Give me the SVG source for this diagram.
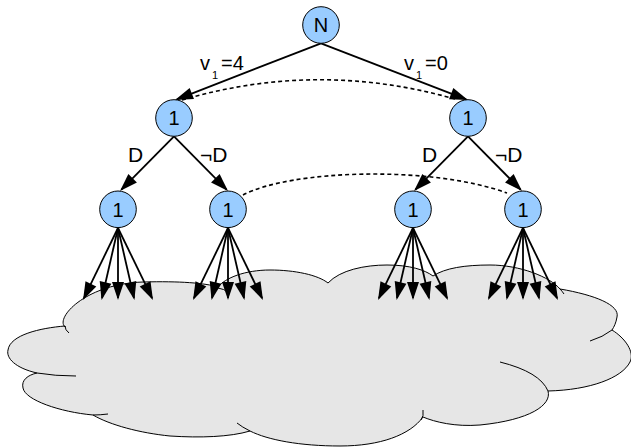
<svg xmlns="http://www.w3.org/2000/svg" width="631" height="447" viewBox="0 0 631 447">
<style>
.cloud{fill:#e6e6e6;stroke:#000;stroke-width:1}
.hook{fill:none;stroke:#000;stroke-width:1}
.edge{fill:none;stroke:#000;stroke-width:1.8;marker-end:url(#arr)}
.dash{fill:none;stroke:#000;stroke-width:1.6;stroke-dasharray:4 3}
.node{fill:#99ccff;stroke:#000;stroke-width:1}
text{font-family:"Liberation Sans",Arial,sans-serif;font-size:20px;fill:#000}
.lbl{font-size:21px}
.nl{text-anchor:middle}
.sub{font-size:11px}
</style>
<defs>
<marker id="arr" markerUnits="userSpaceOnUse" markerWidth="18" markerHeight="12" refX="16" refY="6" orient="auto" overflow="visible">
<path d="M0,0 L18,6 L0,12 Z" fill="#000"/>
</marker>
</defs>
<g id="cloud">
<path class="cloud" d="M65,327 C55,318 85,284 143,282 C180,281 205,283 218,287 C225,278 245,270 270,270 C295,270 318,275 328,283 C340,270 365,265 387,265 C410,265 425,270 433,276 C445,268 465,265 490,265 C520,265 550,277 560,289 C595,295 620,305 617,317 C616,323 614,327 612,330 C625,338 635,352 630,362 C622,378 590,390 548,391 C552,405 530,420 480,425 C455,427 435,422 423,417 C410,435 380,446 340,446 C300,446 268,440 250,431 C230,437 200,438 170,436 C140,433 110,425 93,415 C60,412 25,400 23,388 C21,380 28,375 37,373 C15,368 6,358 8,350 C10,335 40,328 65,326 Z"/>
<path class="hook" d="M65,326 Q65,330 69,333 M37,373 Q55,376 76,376 M93,415 Q100,415 108,414 M250,431 Q242,427 237,423 M421,420 Q424,416 423,410 M500,362 Q540,372 548,391 M590,341 Q603,337 612,330 M218,288 Q224,289 228,292 M560,289 Q562,291 564,294"/>
</g>
<g id="connectors">
<path class="edge" d="M321,43.3 L176.9,99.3"/>
<path class="edge" d="M321,43.3 L466.1,99.3"/>
<path class="edge" d="M174,136.3 L121.4,189.6"/>
<path class="edge" d="M174,136.3 L226.6,189.6"/>
<path class="edge" d="M468,136.3 L415.4,189.6"/>
<path class="edge" d="M468,136.3 L520.6,189.6"/>
<path class="dash" d="M182,100 Q318,60 455,99"/>
<path class="dash" d="M243,195 C290,170 430,165 507,193"/>
<g id="fan1">
<path class="edge" d="M118,228 L83.9,298.2"/>
<path class="edge" d="M118,228 L102,298.05"/>
<path class="edge" d="M118,228 L118,298"/>
<path class="edge" d="M118,228 L134,298.05"/>
<path class="edge" d="M118,228 L152.1,298.2"/>
</g>
<g id="fan2">
<path class="edge" d="M228,228 L193.9,298.2"/>
<path class="edge" d="M228,228 L212,298.05"/>
<path class="edge" d="M228,228 L228,298"/>
<path class="edge" d="M228,228 L244,298.05"/>
<path class="edge" d="M228,228 L262.1,298.2"/>
</g>
<g id="fan3">
<path class="edge" d="M413,228 L378.9,298.2"/>
<path class="edge" d="M413,228 L397,298.05"/>
<path class="edge" d="M413,228 L413,298"/>
<path class="edge" d="M413,228 L429,298.05"/>
<path class="edge" d="M413,228 L447.1,298.2"/>
</g>
<g id="fan4">
<path class="edge" d="M523,228 L488.9,298.2"/>
<path class="edge" d="M523,228 L507,298.05"/>
<path class="edge" d="M523,228 L523,298"/>
<path class="edge" d="M523,228 L539,298.05"/>
<path class="edge" d="M523,228 L557.1,298.2"/>
</g>
<text x="200" y="70">v</text><text class="sub" x="212" y="79">1</text><text x="221" y="70">=4</text>
<text x="404" y="70">v</text><text class="sub" x="416" y="79">1</text><text x="425" y="70">=0</text>
<text class="lbl" x="128" y="162">D</text>
<text class="lbl" x="200" y="162">¬D</text>
<text class="lbl" x="422" y="162">D</text>
<text class="lbl" x="495" y="162">¬D</text>
</g>
<g id="node-root"><circle class="node" cx="321" cy="25" r="18.3"/><text class="nl" x="321" y="32.2">N</text></g>
<g id="node-l"><circle class="node" cx="174" cy="118" r="18.3"/><text class="nl" x="174" y="125.2">1</text></g>
<g id="node-r"><circle class="node" cx="468" cy="118" r="18.3"/><text class="nl" x="468" y="125.2">1</text></g>
<g id="node-ll"><circle class="node" cx="118" cy="209.3" r="18.3"/><text class="nl" x="118" y="216.5">1</text></g>
<g id="node-lr"><circle class="node" cx="228" cy="209.3" r="18.3"/><text class="nl" x="228" y="216.5">1</text></g>
<g id="node-rl"><circle class="node" cx="413" cy="209.3" r="18.3"/><text class="nl" x="413" y="216.5">1</text></g>
<g id="node-rr"><circle class="node" cx="523" cy="209.3" r="18.3"/><text class="nl" x="523" y="216.5">1</text></g>
</svg>
